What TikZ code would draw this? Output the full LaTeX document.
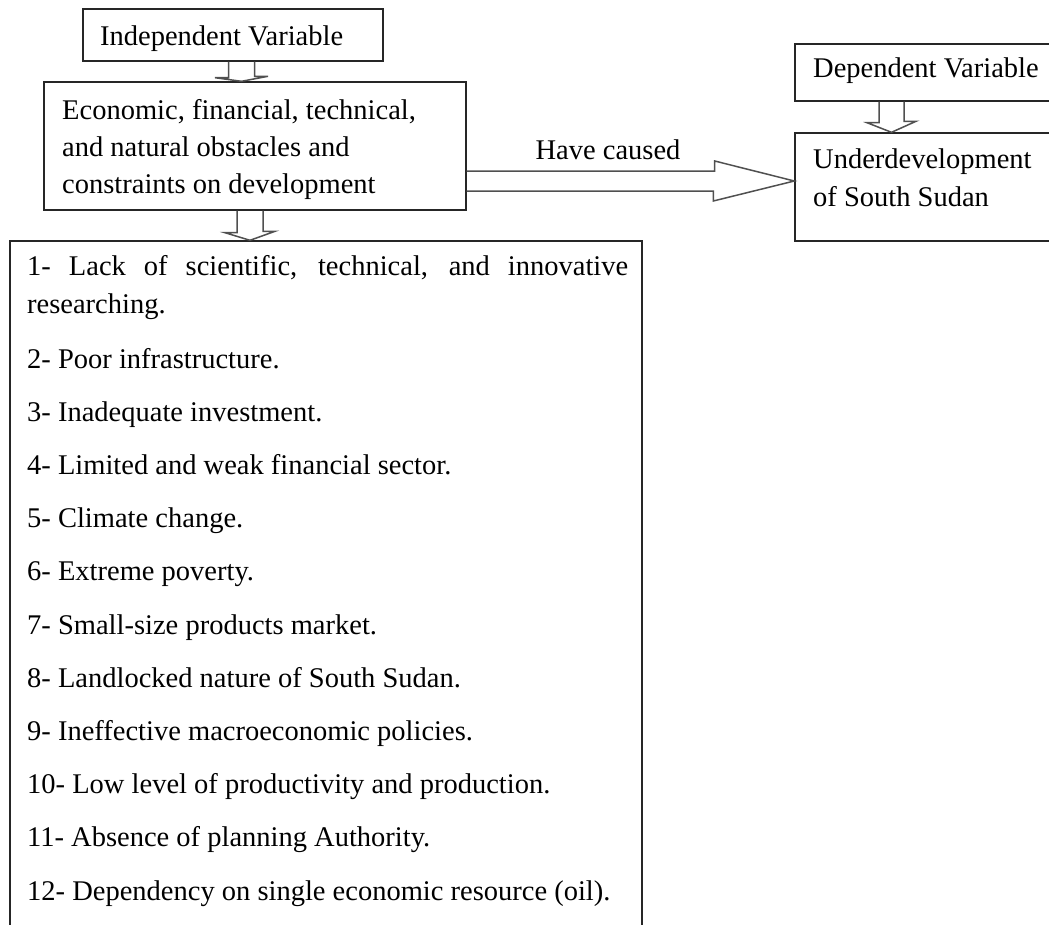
\documentclass[tikz,border=0pt]{standalone}
\usepackage{fontspec}
\setmainfont{Liberation Serif}
\usetikzlibrary{calc}
\definecolor{boxline}{HTML}{262626}
\definecolor{arrline}{HTML}{505050}
\tikzset{
  box/.style={draw=boxline, line width=1.4pt, rectangle, inner sep=0pt},
  txt/.style={anchor=base west, inner sep=0pt, text=black, font=\fontsize{28.5}{34}\selectfont},
  blk/.style={draw=arrline, line width=1.5pt, line join=miter},
}
\begin{document}
\begin{tikzpicture}[x=1pt,y=-1pt]
\clip (0,0) rectangle (1049,924);
\fill[white] (0,0) rectangle (1049,924);
% boxes
\node[box, minimum width=300pt, minimum height=52pt] (iv) at (233,35) {};
\node[box, minimum width=422pt, minimum height=128pt] (mid) at (255,146) {};
\node[box, minimum width=632pt, minimum height=699pt] (big) at (326,590.5) {};
\node[box, minimum width=270pt, minimum height=57pt] (dv) at (930,72.5) {};
\node[box, minimum width=270pt, minimum height=108pt] (ud) at (930,187) {};
% texts
\node[txt] (ivt) at (100,45) {Independent Variable};
\node[txt] (m1) at (62,119) {Economic, financial, technical,};
\node[txt] (m2) at (62,156) {and natural obstacles and};
\node[txt] (m3) at (62,193) {constraints on development};
\node[txt] (dvt) at (813,77) {Dependent Variable};
\node[txt] (u1) at (813,168) {Underdevelopment};
\node[txt] (u2) at (813,206) {of South Sudan};
\node[txt] (l1a) at (27,275) {\makebox[601pt][s]{1- Lack of scientific, technical, and innovative}};
\node[txt] (l1b) at (27,313) {researching.};
\node[txt] (l2) at (27,368) {2- Poor infrastructure.};
\node[txt] (l3) at (27,421.2) {3- Inadequate investment.};
\node[txt] (l4) at (27,474.4) {4- Limited and weak financial sector.};
\node[txt] (l5) at (27,527.6) {5- Climate change.};
\node[txt] (l6) at (27,580.8) {6- Extreme poverty.};
\node[txt] (l7) at (27,634) {7- Small-size products market.};
\node[txt] (l8) at (27,687.2) {8- Landlocked nature of South Sudan.};
\node[txt] (l9) at (27,740.4) {9- Ineffective macroeconomic policies.};
\node[txt] (l10) at (27,793.6) {10- Low level of productivity and production.};
\node[txt] (l11) at (27,846.8) {11- Absence of planning Authority.};
\node[txt] (l12) at (27,900) {12- Dependency on single economic resource (oil).};
% arrow axes
\coordinate (a1) at (241.5,0);
\coordinate (a2) at (250,0);
\coordinate (a3) at (891.5,0);
\coordinate (a4) at (0,181);
% block arrows
\draw[blk] ($(iv.south -| a1)+(-13,0)$) -- ++(0,16) -- ++(-13.5,0) -- (mid.north -| a1)
  -- ++(26.5,-5) -- ++(-13.5,0) -- ($(iv.south -| a1)+(13,0)$);
\draw[blk] ($(mid.south -| a2)+(-13,0)$) -- ++(0,22) -- ++(-12,0) -- (big.north -| a2)
  -- ++(25,-9) -- ++(-12,0) -- ($(mid.south -| a2)+(13,0)$);
\draw[blk] ($(dv.south -| a3)+(-12.5,0)$) -- ++(0,21) -- ++(-12,0) -- (ud.north -| a3)
  -- ++(24.5,-11) -- ++(-12,0) -- ($(dv.south -| a3)+(12.5,0)$);
\draw[blk] ($(mid.east |- a4)+(0,-10)$) -- ++(248,0) -- ++(0,-10) -- (ud.west |- a4)
  -- ++(-81,20) -- ++(0,-10) -- ($(mid.east |- a4)+(0,10)$);
\node[txt, anchor=base] (hc) at (608,159) {Have caused};
\end{tikzpicture}
\end{document}
